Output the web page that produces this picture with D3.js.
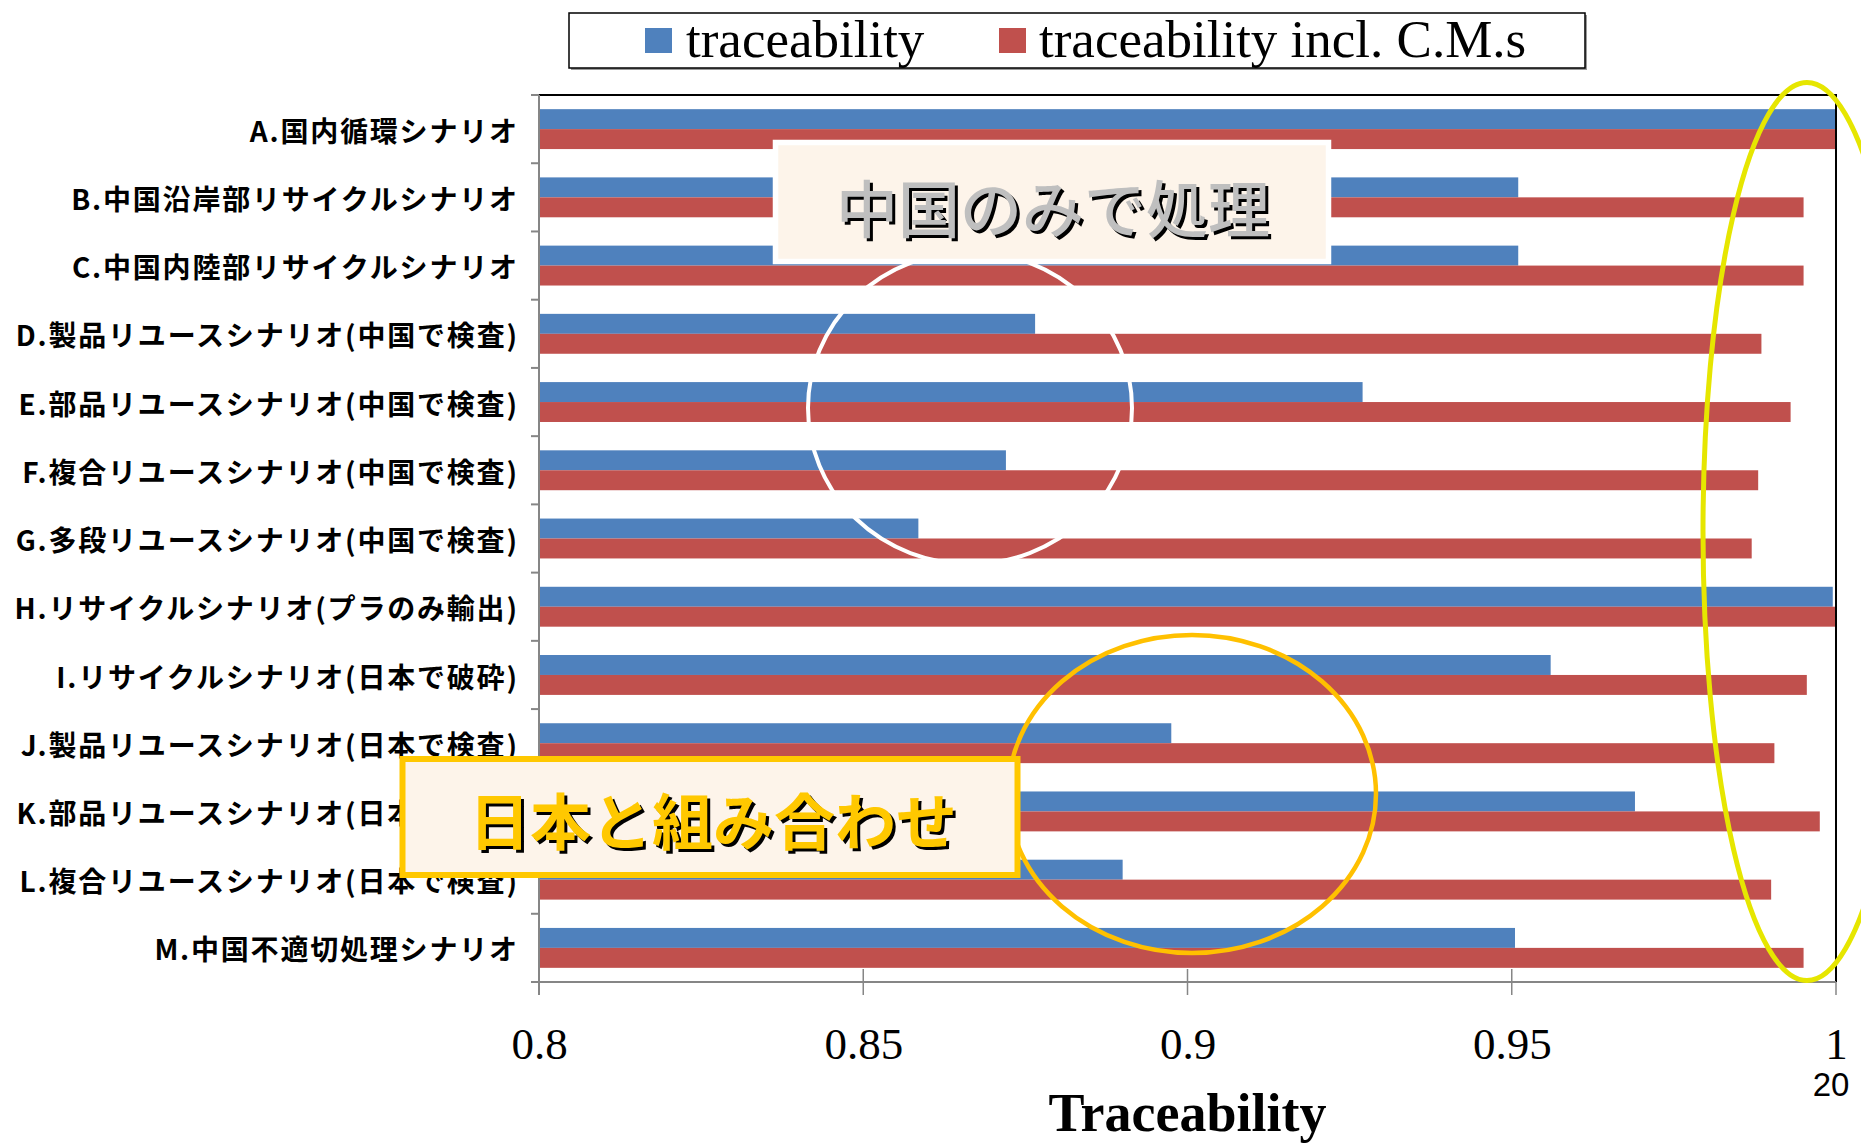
<!DOCTYPE html>
<html lang="ja">
<head>
<meta charset="utf-8">
<title>Traceability by scenario</title>
<script src="https://cdn.jsdelivr.net/npm/d3@7/dist/d3.min.js"></script>
<style>
  html, body { margin: 0; padding: 0; background: #ffffff; }
  svg { display: block; }
</style>
</head>
<body>
<svg id="chart" width="1861" height="1145"></svg>
<script>
// Scenario names (top to bottom)
const categories = [
  "A.国内循環シナリオ",
  "B.中国沿岸部リサイクルシナリオ",
  "C.中国内陸部リサイクルシナリオ",
  "D.製品リユースシナリオ(中国で検査)",
  "E.部品リユースシナリオ(中国で検査)",
  "F.複合リユースシナリオ(中国で検査)",
  "G.多段リユースシナリオ(中国で検査)",
  "H.リサイクルシナリオ(プラのみ輸出)",
  "I.リサイクルシナリオ(日本で破砕)",
  "J.製品リユースシナリオ(日本で検査)",
  "K.部品リユースシナリオ(日本で検査)",
  "L.複合リユースシナリオ(日本で検査)",
  "M.中国不適切処理シナリオ"
];

const seriesNames = ["traceability", "traceability incl. C.M.s"];
const seriesColors = ["#4f81bd", "#c0504d"];

// Traceability of each scenario
const traceability = [1.000, 0.951, 0.951, 0.8765, 0.927, 0.872, 0.8585, 0.9995, 0.956, 0.8975, 0.969, 0.890, 0.9505];
// Traceability including C.M.s
const traceabilityCMs = [1.000, 0.995, 0.995, 0.9885, 0.993, 0.988, 0.987, 1.000, 0.9955, 0.9905, 0.9975, 0.990, 0.995];

const xTicks = [0.8, 0.85, 0.9, 0.95, 1];
const xTickLabels = ["0.8", "0.85", "0.9", "0.95", "1"];
const xDomain = [0.8, 1];
const axisTitle = "Traceability";
const pageNumber = "20";

const callouts = [
  { text: "中国のみで処理", kind: "china" },
  { text: "日本と組み合わせ", kind: "japan" }
];

// ---- layout ----
const svg = d3.select("#chart");
const plot = { left: 539, right: 1836, top: 95, bottom: 982 };
const labelSpacing = 1.8;

const x = d3.scaleLinear().domain(xDomain).range([plot.left, plot.right]);
const y = d3.scaleBand().domain(categories).range([plot.top, plot.bottom]).padding(0);
const ySeries = d3.scaleBand().domain(seriesNames).range([0, y.bandwidth()])
  .paddingInner(0).paddingOuter(0.71);

svg.append("rect").attr("width", 1861).attr("height", 1145).attr("fill", "#ffffff");

const rows = categories.map((c, i) => ({
  category: c,
  values: [traceability[i], traceabilityCMs[i]]
}));

// bars
const rowG = svg.append("g").selectAll("g").data(rows).join("g")
  .attr("transform", d => `translate(0,${y(d.category)})`);

rowG.selectAll("rect").data(d => d.values.map((v, k) => ({ v, k })))
  .join("rect")
  .attr("x", x(xDomain[0]))
  .attr("y", d => ySeries(seriesNames[d.k]))
  .attr("width", d => x(d.v) - x(xDomain[0]))
  .attr("height", ySeries.bandwidth())
  .attr("fill", d => seriesColors[d.k]);

// plot frame: top and right edges
svg.append("path")
  .attr("d", `M${plot.left},${plot.top}H${plot.right}V${plot.bottom}`)
  .attr("fill", "none").attr("stroke", "#000").attr("stroke-width", 2);

// left category axis
const yAxis = d3.axisLeft(y).tickSize(0).tickPadding(22 - labelSpacing);
const yAxisG = svg.append("g").attr("transform", `translate(${plot.left},0)`).call(yAxis);
yAxisG.select(".domain").remove();
yAxisG.selectAll("text")
  .attr("font-family", "'Noto Sans CJK JP', sans-serif")
  .attr("font-weight", 700)
  .attr("font-size", 28)
  .attr("letter-spacing", `${labelSpacing}px`)
  .attr("fill", "#000")
  .attr("dy", "0.45em");

const boundaries = categories.map(c => y(c)).concat([plot.bottom]);
svg.append("g").selectAll("line").data(boundaries).join("line")
  .attr("x1", plot.left - 8).attr("x2", plot.left)
  .attr("y1", d => d).attr("y2", d => d)
  .attr("stroke", "#868686").attr("stroke-width", 2);
svg.append("line")
  .attr("x1", plot.left).attr("x2", plot.left)
  .attr("y1", plot.top).attr("y2", plot.bottom + 13)
  .attr("stroke", "#868686").attr("stroke-width", 2);

// bottom value axis
const xAxis = d3.axisBottom(x).tickValues(xTicks).tickSize(0)
  .tickFormat((d, i) => xTickLabels[i]);
const xAxisG = svg.append("g").attr("transform", `translate(0,${plot.bottom})`).call(xAxis);
xAxisG.select(".domain").remove();
xAxisG.selectAll("text")
  .attr("font-family", "'Liberation Serif', 'Times New Roman', serif")
  .attr("font-size", 45)
  .attr("fill", "#000")
  .attr("y", 77)
  .attr("dy", 0);

svg.append("line")
  .attr("x1", plot.left - 8).attr("x2", plot.right)
  .attr("y1", plot.bottom).attr("y2", plot.bottom)
  .attr("stroke", "#868686").attr("stroke-width", 2);
svg.append("g").selectAll("line").data(xTicks).join("line")
  .attr("x1", d => x(d)).attr("x2", d => x(d))
  .attr("y1", d => (d === xDomain[0] || d === xDomain[1]) ? plot.bottom : plot.bottom - 13)
  .attr("y2", plot.bottom + 13)
  .attr("stroke", "#868686").attr("stroke-width", 1.5);

svg.append("text")
  .attr("x", x(0.9)).attr("y", 1131)
  .attr("text-anchor", "middle")
  .attr("font-family", "'Liberation Serif', 'Times New Roman', serif")
  .attr("font-weight", 700)
  .attr("font-size", 54)
  .text(axisTitle);

svg.append("text")
  .attr("x", 1831).attr("y", 1096)
  .attr("text-anchor", "middle")
  .attr("font-family", "'Liberation Sans', Arial, sans-serif")
  .attr("font-size", 33)
  .text(pageNumber);

// legend
const legend = svg.append("g");
legend.append("rect")
  .attr("x", 571).attr("y", 15).attr("width", 1016).attr("height", 55)
  .attr("fill", "#9a9a9a");
legend.append("rect")
  .attr("x", 569).attr("y", 13).attr("width", 1016).attr("height", 55)
  .attr("fill", "#fff").attr("stroke", "#000").attr("stroke-width", 1.5);
const legendItems = [{ sx: 645, tx: 686 }, { sx: 999, tx: 1039 }];
seriesNames.forEach((name, i) => {
  legend.append("rect")
    .attr("x", legendItems[i].sx).attr("y", 28).attr("width", 27).attr("height", 25)
    .attr("fill", seriesColors[i]);
  legend.append("text")
    .attr("x", legendItems[i].tx).attr("y", 57)
    .attr("font-family", "'Liberation Serif', 'Times New Roman', serif")
    .attr("font-size", 53)
    .attr("fill", "#000")
    .text(name);
});

// callouts
const ann = svg.append("g");

// white ring around the China-only reuse scenarios
ann.append("ellipse")
  .attr("cx", 970).attr("cy", 408).attr("rx", 162).attr("ry", 156)
  .attr("fill", "none").attr("stroke", "#fff").attr("stroke-width", 4);

const box1 = ann.append("g");
box1.append("rect")
  .attr("x", 775.5).attr("y", 142.5).attr("width", 553).attr("height", 119)
  .attr("fill", "#fdf4ea").attr("stroke", "#fff").attr("stroke-width", 5.5);
const t1 = box1.append("g")
  .attr("font-family", "'Noto Sans CJK JP', sans-serif")
  .attr("font-weight", 500)
  .attr("font-size", 62)
  .attr("text-anchor", "middle");
t1.append("text").attr("x", 1056).attr("y", 236).attr("fill", "#000").text(callouts[0].text);
t1.append("text").attr("x", 1053).attr("y", 233).attr("fill", "#bfbfbf").text(callouts[0].text);

// orange ring around the Japan-combined scenarios
ann.append("ellipse")
  .attr("cx", 1192).attr("cy", 794).attr("rx", 184).attr("ry", 159)
  .attr("fill", "none").attr("stroke", "#ffc000").attr("stroke-width", 4.5);

const box2 = ann.append("g");
box2.append("rect")
  .attr("x", 402.5).attr("y", 759).attr("width", 615).attr("height", 116)
  .attr("fill", "#fdf4ea").attr("stroke", "#ffc800").attr("stroke-width", 6);
const t2 = box2.append("g")
  .attr("font-family", "'Noto Sans CJK JP', sans-serif")
  .attr("font-weight", 700)
  .attr("font-size", 61)
  .attr("text-anchor", "middle");
t2.append("text").attr("x", 716).attr("y", 848).attr("fill", "#000").text(callouts[1].text);
t2.append("text").attr("x", 713).attr("y", 845).attr("fill", "#ffc800").text(callouts[1].text);

// yellow ring around the right end of the bars
ann.append("ellipse")
  .attr("cx", 1807).attr("cy", 531.5).attr("rx", 104).attr("ry", 449)
  .attr("fill", "none").attr("stroke", "#e6e600").attr("stroke-width", 5);
</script>
</body>
</html>
